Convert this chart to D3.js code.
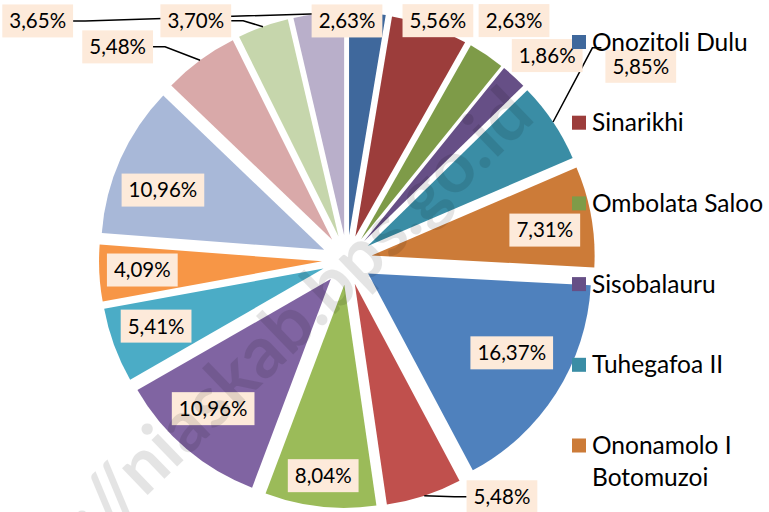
<!DOCTYPE html>
<html>
<head>
<meta charset="utf-8">
<script src="https://cdn.jsdelivr.net/npm/d3@7"></script>
<style>
body { margin: 0; background: #fff; }
svg { display: block; }
text { font-family: Lato, "Open Sans", sans-serif; }
</style>
</head>
<body>
<svg width="769" height="512"></svg>
<script>
// share per desa (%), clockwise from 12 o'clock
var values = [2.63, 5.56, 2.63, 1.86, 5.85, 7.31, 16.37, 5.48, 8.04, 10.96, 5.41, 4.09, 10.96, 5.48, 3.70, 3.65];
// legend only shows the first entries (the rest is cut off in the original)
var legendNames = ["Onozitoli Dulu", "Sinarikhi", "Ombolata Saloo", "Sisobalauru", "Tuhegafoa II", "Ononamolo I Botomuzoi"];
var colors = ["#3f689c", "#9c3d3b", "#7e9b48", "#664f86", "#3a8da5", "#cc7b38",
              "#4f81bd", "#c0504d", "#9bbb59", "#8064a2", "#4bacc6", "#f79646",
              "#a8b8d8", "#d9a9a9", "#c6d6ac", "#b9afca"];
var watermark = "http://niaskab.bps.go.id";

var svg = d3.select("svg"),
    cx = 347, cy = 260,
    r = 223,          // slice radius
    explode = 25;     // slice explosion

// label placement: [distance / r, angle in degrees, leader type]
var labelPlace = [
  [1.072, 0, null], [1.148, 20.8, null], [1.309, 34.9, null], [1.283, 44.4, null],
  [1.578, 56.6, "corner"], [0.897, 81.4, null], [0.848, 119.4, null], [1.269, 146.8, "side"],
  [0.973, 186.3, null], [0.897, 222, null], [0.906, 250.9, null], [0.919, 267.2, null],
  [0.883, 290.8, null], [1.404, 312.9, "side"], [1.269, 327.7, "side"], [1.753, 307.7, "side"]
];

var pie = d3.pie().sort(null).value(function(d) { return d; });
var arcs = pie(values);
var arc = d3.arc().innerRadius(0).outerRadius(r);

function mid(d) { return (d.startAngle + d.endAngle) / 2; }
function polar(a, dist) { return [Math.sin(a) * dist, -Math.cos(a) * dist]; }
var fmt = function(v) { return d3.format(".2f")(v).replace(".", ",") + "%"; };

var g = svg.append("g").attr("transform", "translate(" + cx + "," + cy + ")");

// slices
g.append("g").selectAll("path")
  .data(arcs)
  .enter().append("path")
  .attr("transform", function(d) {
    var p = polar(mid(d), explode);
    return "translate(" + p[0] + "," + p[1] + ")";
  })
  .attr("d", arc)
  .attr("fill", function(d, i) { return colors[i]; });

// watermark
svg.append("text")
  .attr("transform", "translate(537,119) rotate(-44)")
  .attr("text-anchor", "end")
  .attr("font-size", 72)
  .attr("font-weight", "bold")
  .attr("fill", "#000")
  .attr("opacity", 0.1)
  .text(watermark);

// data labels
var leaders = g.append("g");
var labels = g.append("g").selectAll("g")
  .data(arcs)
  .enter().append("g")
  .attr("transform", function(d, i) {
    var pl = labelPlace[i];
    var p = polar(pl[1] * Math.PI / 180, pl[0] * r);
    d.lx = p[0]; d.ly = p[1];
    return "translate(" + p[0] + "," + p[1] + ")";
  });

var boxRect = labels.append("rect").attr("fill", "#fdeada");
labels.append("text")
  .attr("text-anchor", "middle")
  .attr("dy", "0.36em")
  .attr("font-size", 20.5)
  .attr("fill", "#000")
  .text(function(d) { return fmt(d.data); })
  .each(function(d) { d.tw = this.getComputedTextLength(); });

var boxH = 33, padX = 7;
boxRect
  .attr("x", function(d) { return -d.tw / 2 - padX; })
  .attr("y", -boxH / 2)
  .attr("width", function(d) { return d.tw + 2 * padX; })
  .attr("height", boxH);

arcs.forEach(function(d, i) {
  var pl = labelPlace[i];
  if (!pl[2]) return;
  var a = polar(mid(d), explode + r);
  var hw = d.tw / 2 + padX, end, elbow;
  if (pl[2] === "corner") {
    end = [d.lx - hw - 4, d.ly - boxH / 2 - 2];
    elbow = [end[0] - 9, end[1]];
  } else {
    var s = a[0] < d.lx ? -1 : 1;
    end = [d.lx + s * hw, d.ly];
    elbow = [end[0] + s * 12, end[1]];
  }
  leaders.append("polyline")
    .attr("points", [a, elbow, end].map(function(p) { return p.join(","); }).join(" "))
    .attr("fill", "none")
    .attr("stroke", "#000")
    .attr("stroke-width", 1.5);
});

// legend
var legY = d3.scaleLinear().domain([0, 1]).range([42, 122.7]);
var legend = svg.append("g").selectAll("g")
  .data(legendNames)
  .enter().append("g")
  .attr("transform", function(d, i) { return "translate(572," + legY(i) + ")"; });

legend.append("rect")
  .attr("y", -7)
  .attr("width", 14)
  .attr("height", 14)
  .attr("fill", function(d, i) { return colors[i]; });

legend.append("text")
  .attr("x", 20)
  .attr("dy", "0.35em")
  .attr("font-size", 24.5)
  .attr("fill", "#000")
  .each(function(d) {
    // simple word wrap to the space left of the svg edge
    var t = d3.select(this), words = d.split(" "), line = [];
    var ts = t.append("tspan").attr("x", 20);
    words.forEach(function(w) {
      line.push(w);
      ts.text(line.join(" "));
      if (ts.node().getComputedTextLength() > 176 && line.length > 1) {
        line.pop();
        ts.text(line.join(" "));
        line = [w];
        ts = t.append("tspan").attr("x", 20).attr("dy", "1.3em").text(w);
      }
    });
  });
</script>
</body>
</html>
